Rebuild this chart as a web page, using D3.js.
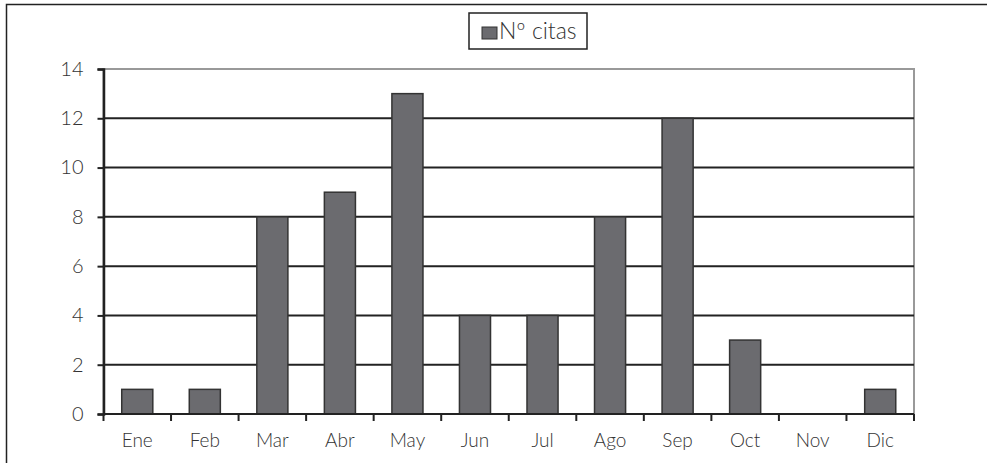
<!DOCTYPE html>
<html>
<head>
<meta charset="UTF-8" />
<title>Nº citas por mes</title>
<script src="https://d3js.org/d3.v7.min.js"></script>
<style>
  body { margin: 0; background: #fff; }
  svg text { font-family: Lato, "Open Sans", sans-serif; font-weight: 300; fill: #333; }
</style>
</head>
<body>
<svg id="chart"></svg>
<script>
const months = ['Ene', 'Feb', 'Mar', 'Abr', 'May', 'Jun', 'Jul', 'Ago', 'Sep', 'Oct', 'Nov', 'Dic']
const citas = [1, 1, 8, 9, 13, 4, 4, 8, 12, 3, 0, 1]
const yTicks = [0, 2, 4, 6, 8, 10, 12, 14]
const seriesName = 'Nº citas'

const width = 987, height = 463
const m = { top: 69, right: 73, bottom: 49, left: 103.5 }

const svg = d3.select('#chart').attr('width', width).attr('height', height)

// outer frame (open at right and bottom)
svg.append('path')
  .attr('d', `M6.5,${height} V4.5 H${width}`)
  .attr('fill', 'none').attr('stroke', '#222').attr('stroke-width', 1.5)

const x = d3.scaleBand().domain(months).range([m.left, width - m.right]).paddingInner(0.54).paddingOuter(0.27)
const y = d3.scaleLinear().domain([0, 14]).range([height - m.bottom, m.top])

// plot area border
svg.append('rect')
  .attr('x', m.left).attr('y', m.top)
  .attr('width', width - m.right - m.left).attr('height', y(0) - m.top)
  .attr('fill', 'none').attr('stroke', '#999').attr('stroke-width', 2)

// gridlines
svg.append('g').selectAll('line')
  .data(yTicks.filter(d => d > 0 && d < 14))
  .join('line')
  .attr('x1', m.left).attr('x2', width - m.right)
  .attr('y1', d => y(d)).attr('y2', d => y(d))
  .attr('stroke', '#222').attr('stroke-width', 2)

// bars
svg.append('g').selectAll('rect')
  .data(months.map((k, i) => ({ k, v: citas[i] })).filter(d => d.v > 0))
  .join('rect')
  .attr('x', d => x(d.k)).attr('width', x.bandwidth())
  .attr('y', d => y(d.v)).attr('height', d => y(0) - y(d.v))
  .attr('fill', '#6b6b6f').attr('stroke', '#333').attr('stroke-width', 1.5)

// y axis
const yAxis = svg.append('g')
  .attr('transform', `translate(${m.left},0)`)
  .call(d3.axisLeft(y).tickValues(yTicks).tickSize(6).tickPadding(14))
yAxis.select('.domain').attr('stroke', '#222').attr('stroke-width', 2.5)
yAxis.selectAll('.tick line').attr('stroke', '#222').attr('stroke-width', 2)
yAxis.selectAll('text').attr('font-size', 20).attr('fill', '#333')

// x axis with ticks at category boundaries
const xg = svg.append('g').attr('transform', `translate(0,${y(0)})`)
xg.append('line')
  .attr('x1', m.left).attr('x2', width - m.right)
  .attr('stroke', '#222').attr('stroke-width', 2)
const step = x.step()
xg.selectAll('line.t')
  .data(d3.range(months.length + 1))
  .join('line').attr('class', 't')
  .attr('x1', i => m.left + i * step).attr('x2', i => m.left + i * step)
  .attr('y1', 0).attr('y2', 7)
  .attr('stroke', '#222').attr('stroke-width', 2)
xg.selectAll('text')
  .data(months)
  .join('text')
  .attr('x', d => x(d) + x.bandwidth() / 2)
  .attr('y', 33)
  .attr('text-anchor', 'middle')
  .attr('font-size', 19)
  .text(d => d)

// legend
const lg = svg.append('g').attr('transform', 'translate(469,13)')
lg.append('rect').attr('width', 118).attr('height', 36)
  .attr('fill', '#fff').attr('stroke', '#222').attr('stroke-width', 1.5)
lg.append('rect').attr('x', 13).attr('y', 14).attr('width', 15).attr('height', 12)
  .attr('fill', '#6b6b6f').attr('stroke', '#333').attr('stroke-width', 1)
lg.append('text').attr('x', 30).attr('y', 26).attr('font-size', 23).text(seriesName)
</script>
</body>
</html>
